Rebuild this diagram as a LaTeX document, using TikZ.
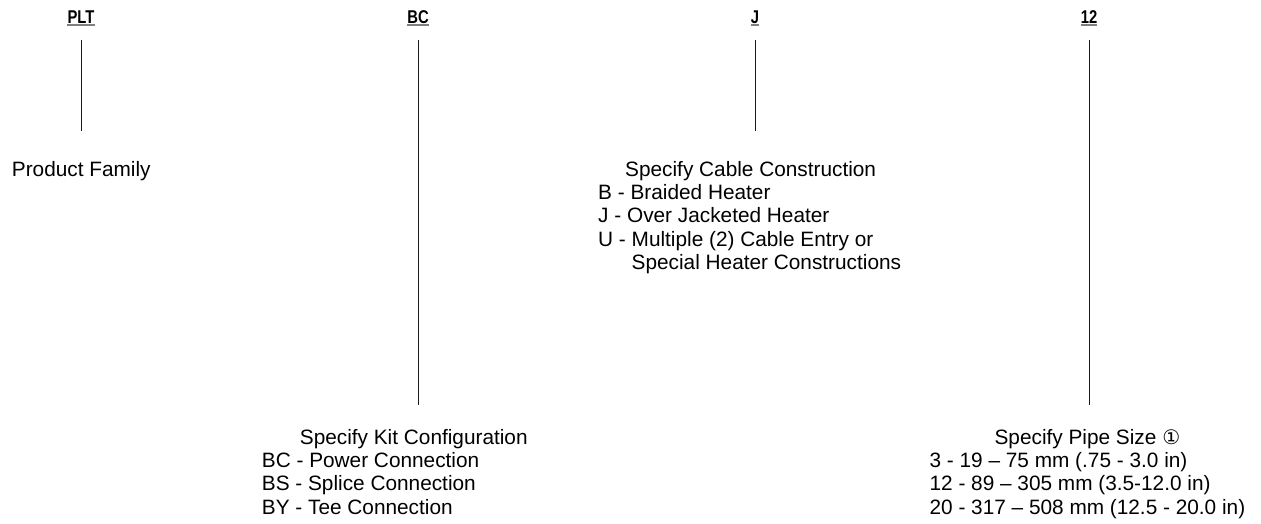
\documentclass[tikz,border=0pt]{standalone}
\usepackage{fontspec}
\setmainfont{Liberation Sans}
\newfontfamily\codefont[FakeStretch=0.8]{Liberation Sans}
\newfontfamily\symfont{DejaVu Sans}
\usetikzlibrary{positioning}
\definecolor{LeadBlack}{HTML}{1A1A1A}
\definecolor{RuleGray}{HTML}{7F7F7F}

\begin{document}
\begin{tikzpicture}[x=1pt, y=-1pt,
    code/.style={font=\codefont\bfseries\fontsize{18.5}{20}\selectfont, inner sep=0pt, anchor=base},
    desc/.style={font=\fontsize{20.8}{23.4}\selectfont, inner sep=0pt, anchor=base west, align=left},
    lead/.style={LeadBlack, line width=1pt, shorten <=16.7pt}]
  \useasboundingbox (0,0) rectangle (1261,523);
  % part number fields
  \node[code] (plt) at (81,23.3) {PLT};
  \node[code] (bc) at (418,23.3) {BC};
  \node[code] (jkt) at (755,23.3) {J};
  \node[code] (size) at (1089,23.3) {12};
  \foreach \n in {plt,bc,jkt,size}
    \draw[RuleGray, line width=2pt] ([yshift=-1.7pt]\n.south west) -- ([yshift=-1.7pt]\n.south east);
  % descriptions (placed at the baseline of their last line)
  \node[desc] (fam) at (11.7,176) {Product Family};
  \node[desc] (cable) at (598,269.6) {\hspace*{27pt}Specify Cable Construction\\
    B - Braided Heater\\
    J - Over Jacketed Heater\\
    U - Multiple (2) Cable Entry or\\
    \phantom{U - }Special Heater Constructions};
  \node[desc] (kit) at (261.7,514.2) {\hspace*{38pt}Specify Kit Configuration\\
    BC - Power Connection\\
    BS - Splice Connection\\
    BY - Tee Connection};
  \node[desc] (pipe) at (929.4,514.2) {\hspace*{65pt}Specify Pipe Size \smash{\symfont\fontsize{20}{20}\selectfont ①}\\
    3 - 19 -- 75 mm (.75 - 3.0 in)\\
    12 - 89 -- 305 mm (3.5-12.0 in)\\
    20 - 317 -- 508 mm (12.5 - 20.0 in)};
  % leaders
  \draw[lead, shorten >=29.7pt] (plt.south) -- (plt.south |- fam.north);
  \draw[lead, shorten >=29.7pt] (jkt.south) -- (jkt.south |- cable.north);
  \draw[lead, shorten >=23.7pt] (bc.south) -- (bc.south |- kit.north);
  \draw[lead, shorten >=23.7pt] (size.south) -- (size.south |- pipe.north);
\end{tikzpicture}
\end{document}
